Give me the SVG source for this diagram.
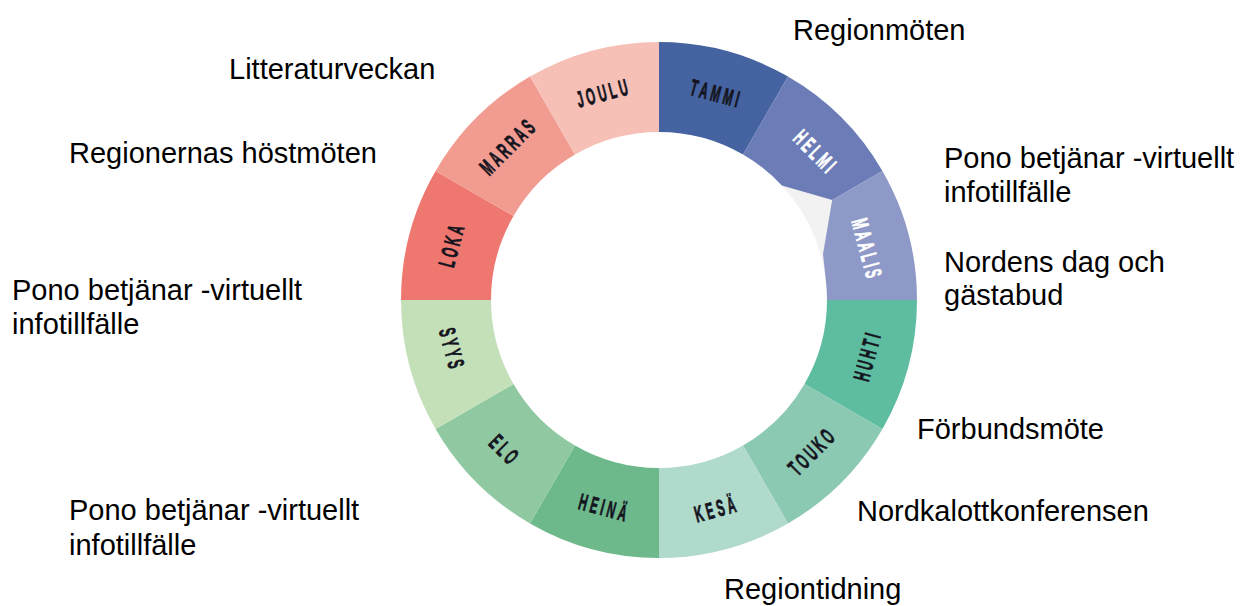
<svg xmlns="http://www.w3.org/2000/svg" width="1241" height="606" viewBox="0 0 1241 606">
<style>
.lbl{font-family:"Liberation Sans",Arial,sans-serif;font-size:29px;fill:#000}
.m{font-family:"Liberation Sans",Arial,sans-serif;font-weight:bold;font-size:23px;letter-spacing:6.5px;text-anchor:middle;fill:#15151f;stroke:#15151f;stroke-width:0.8px}
.w{fill:#ffffff;stroke:#ffffff}
</style>
<rect width="1241" height="606" fill="#ffffff"/>
<g id="ring">
<path id="gap" d="M775.6,179.2 A168,168 0 0 1 826.1,282.4 L850,282 L850,180 Z" fill="#f2f2f2"/>
<g id="tammi"><path d="M659,42 A258,258 0 0 1 788,76.57 L743,154.51 A168,168 0 0 0 659,132 Z" fill="#4563a0"/><text class="m" transform="translate(715,93) rotate(15) scale(0.5,1)" dx="3.25" dy="0.36em">TAMMI</text></g>
<g id="helmi"><path d="M788,76.57 A258,258 0 0 1 882.43,171 L832.2,200 L781.9,185.4 A168,168 0 0 0 743,154.51 Z" fill="#6b7cb7"/><text class="m w" transform="translate(815,151) rotate(45) scale(0.5,1)" dx="3.25" dy="0.36em">HELMI</text></g>
<g id="maalis"><path d="M882.43,171 A258,258 0 0 1 917,300 L827,300 A168,168 0 0 0 825.8,280 L823,254 L832.2,200 Z" fill="#8f99c8"/><text class="m w" transform="translate(867,248) rotate(75) scale(0.5,1)" dx="3.25" dy="0.36em">MAALIS</text></g>
<g id="huhti"><path d="M917,300 A258,258 0 0 1 882.43,429 L804.49,384 A168,168 0 0 0 827,300 Z" fill="#5ebda0"/><text class="m" transform="translate(866.7,357) rotate(-75) scale(0.5,1)" dx="3.25" dy="0.36em">HUHTI</text></g>
<g id="touko"><path d="M882.43,429 A258,258 0 0 1 788,523.43 L743,445.49 A168,168 0 0 0 804.49,384 Z" fill="#8bc9b2"/><text class="m" transform="translate(811,452) rotate(-45) scale(0.5,1)" dx="3.25" dy="0.36em">TOUKO</text></g>
<g id="kesa"><path d="M788,523.43 A258,258 0 0 1 659,558 L659,468 A168,168 0 0 0 743,445.49 Z" fill="#b0dacb"/><text class="m" transform="translate(715,509) rotate(-15) scale(0.5,1)" dx="3.25" dy="0.36em">KESÄ</text></g>
<g id="heina"><path d="M659,558 A258,258 0 0 1 530,523.43 L575,445.49 A168,168 0 0 0 659,468 Z" fill="#6db98c"/><text class="m" transform="translate(603,507) rotate(15) scale(0.5,1)" dx="3.25" dy="0.36em">HEINÄ</text></g>
<g id="elo"><path d="M530,523.43 A258,258 0 0 1 435.57,429 L513.51,384 A168,168 0 0 0 575,445.49 Z" fill="#90c9a1"/><text class="m" transform="translate(504,449) rotate(45) scale(0.5,1)" dx="3.25" dy="0.36em">ELO</text></g>
<g id="syys"><path d="M435.57,429 A258,258 0 0 1 401,300 L491,300 A168,168 0 0 0 513.51,384 Z" fill="#c4e0b9"/><text class="m" transform="translate(452,348) rotate(75) scale(0.5,1)" dx="3.25" dy="0.36em">SYYS</text></g>
<g id="loka"><path d="M401,300 A258,258 0 0 1 435.57,171 L513.51,216 A168,168 0 0 0 491,300 Z" fill="#ee7870"/><text class="m" transform="translate(451,246) rotate(-75) scale(0.5,1)" dx="3.25" dy="0.36em">LOKA</text></g>
<g id="marras"><path d="M435.57,171 A258,258 0 0 1 530,76.57 L575,154.51 A168,168 0 0 0 513.51,216 Z" fill="#f29c91"/><text class="m" transform="translate(507,147) rotate(-45) scale(0.5,1)" dx="3.25" dy="0.36em">MARRAS</text></g>
<g id="joulu"><path d="M530,76.57 A258,258 0 0 1 659,42 L659,132 A168,168 0 0 0 575,154.51 Z" fill="#f6c0b6"/><text class="m" transform="translate(602,93) rotate(-15) scale(0.5,1)" dx="3.25" dy="0.36em">JOULU</text></g>
</g>
<g id="events">
<g id="ev-regionmoten"><text class="lbl" x="793" y="40">Regionmöten</text></g>
<g id="ev-litteraturveckan"><text class="lbl" x="229" y="79">Litteraturveckan</text></g>
<g id="ev-hostmoten"><text class="lbl" x="69" y="163">Regionernas höstmöten</text></g>
<g id="ev-pono-right"><text class="lbl" x="944" y="168">Pono betjänar -virtuellt</text><text class="lbl" x="944" y="202">infotillfälle</text></g>
<g id="ev-nordens"><text class="lbl" x="944" y="272">Nordens dag och</text><text class="lbl" x="944" y="305">gästabud</text></g>
<g id="ev-pono-left"><text class="lbl" x="12" y="300">Pono betjänar -virtuellt</text><text class="lbl" x="12" y="334">infotillfälle</text></g>
<g id="ev-forbundsmote"><text class="lbl" x="917" y="439">Förbundsmöte</text></g>
<g id="ev-nordkalott"><text class="lbl" x="857" y="521">Nordkalottkonferensen</text></g>
<g id="ev-pono-bottom"><text class="lbl" x="69" y="520">Pono betjänar -virtuellt</text><text class="lbl" x="69" y="555">infotillfälle</text></g>
<g id="ev-regiontidning"><text class="lbl" x="724" y="599">Regiontidning</text></g>
</g>
</svg>
